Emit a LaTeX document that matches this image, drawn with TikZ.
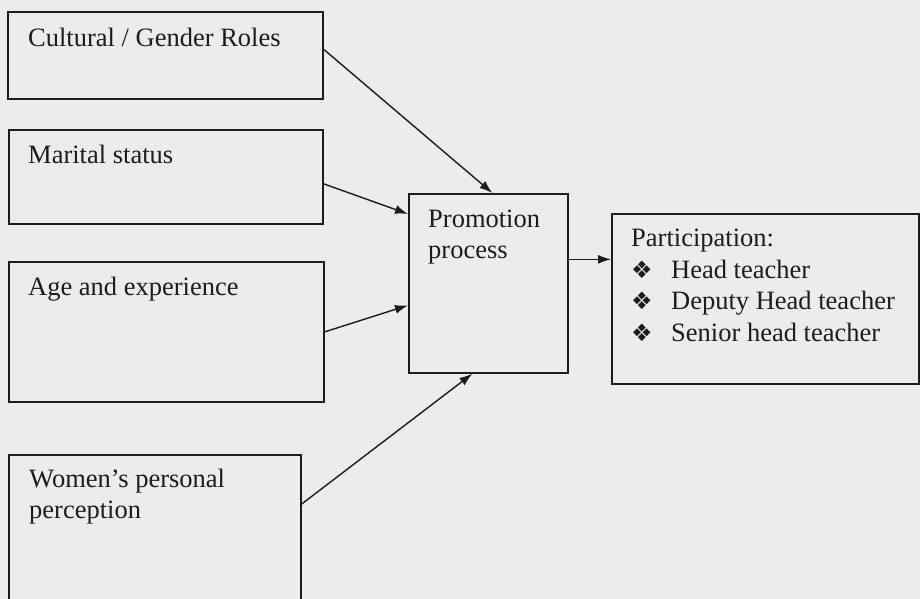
\documentclass[tikz,border=0pt]{standalone}
\usepackage{fontspec}
\setmainfont{Liberation Serif}
\newfontfamily\dingfont{DejaVu Sans}
\usetikzlibrary{calc,arrows.meta}
\definecolor{paper}{RGB}{236,236,236}
\definecolor{ink}{RGB}{28,28,28}
\newcommand{\puce}{\makebox[40pt][l]{{\dingfont\fontsize{24}{24}\selectfont ❖}}}
\tikzset{
  cadre/.style={draw=ink, line width=1.7pt, inner sep=0pt, anchor=north west},
  texte/.style={text=ink, inner sep=0pt, anchor=base west, align=left, font=\fontsize{26.5}{31.5}\selectfont},
  fleche/.style={draw=ink, line width=1.4pt, -{Latex[length=13pt,width=9pt]}}
}

\begin{document}
\begin{tikzpicture}[x=1pt,y=-1pt]
  \useasboundingbox (0,0) rectangle (920,599);
  \clip (0,0) rectangle (920,599);
  \fill[paper] (0,0) rectangle (920,599);

  \node[cadre, minimum width=315pt, minimum height=87pt] (cult) at (7,11) {};
  \node[cadre, minimum width=314pt, minimum height=94pt] (marit) at (8,129) {};
  \node[cadre, minimum width=315pt, minimum height=140pt] (age) at (8,261) {};
  \node[cadre, minimum width=292pt, minimum height=220pt] (wom) at (8,454) {};
  \node[cadre, minimum width=159pt, minimum height=179pt] (promo) at (408,193) {};
  \node[cadre, minimum width=307pt, minimum height=170pt] (partic) at (611,213) {};

  % base west sits on the last line
  \node[texte] (cultT) at ($(cult.north west)+(21,36)$) {Cultural / Gender Roles};
  \node[texte] (maritT) at ($(marit.north west)+(20,34)$) {Marital status};
  \node[texte] (ageT) at ($(age.north west)+(20,34)$) {Age and experience};
  \node[texte] (womT) at ($(wom.north west)+(21,64.5)$) {Women’s personal\\perception};
  \node[texte] (promoT) at ($(promo.north west)+(20,65.5)$) {Promotion\\process};
  \node[texte] (particT) at ($(partic.north west)+(20,128)$) {Participation:\\
    \puce Head teacher\\
    \puce Deputy Head teacher\\
    \puce Senior head teacher};

  \draw[fleche] ([yshift=6pt]cult.east) -- ([xshift=4pt]promo.north);
  \draw[fleche] ([yshift=-7pt]marit.east) -- ([yshift=-21pt]promo.north west);
  \draw[fleche] (age.east) -- ([yshift=-22pt]promo.west);
  \draw[fleche] ([yshift=-50pt]wom.north east) -- ([xshift=-16pt]promo.south);
  \draw[fleche] ([yshift=24pt]promo.east) -- ([yshift=24pt]promo.east -| partic.west);
\end{tikzpicture}
\end{document}
